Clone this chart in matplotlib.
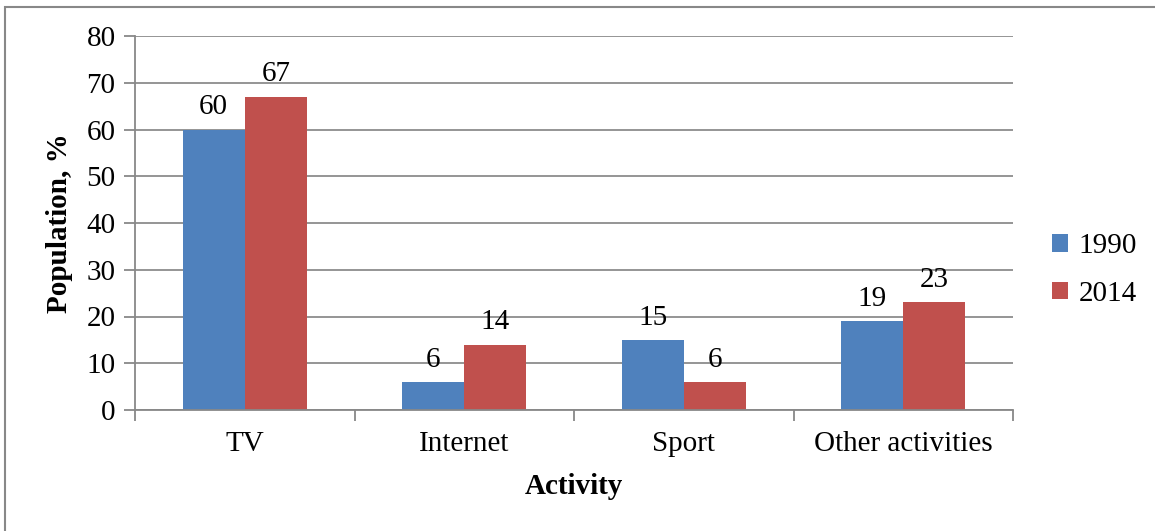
import matplotlib
matplotlib.use("Agg")
import matplotlib.pyplot as plt
import numpy as np
from matplotlib.patches import Rectangle

categories = ["TV", "Internet", "Sport", "Other activities"]
series_names = ["1990", "2014"]
values_1990 = [60, 6, 15, 19]
values_2014 = [67, 14, 6, 23]
yticks = [0, 10, 20, 30, 40, 50, 60, 70, 80]

plt.rcParams['font.family'] = ['Liberation Serif', 'DejaVu Serif']
W, H = 1155, 531
fig = plt.figure(figsize=(W/100, H/100), dpi=100)
ax = fig.add_axes([135/W, 1-410/H, 878/W, 374/H])

# chart frame
fig.patches.append(Rectangle((5/W, -0.1), 1.2, 1-7/H+0.1, transform=fig.transFigure,
                             fill=False, edgecolor='#888888', linewidth=1.5))

blue = '#4F81BD'
red = '#C0504D'
fs = 21
x = np.arange(len(categories))
bw = 0.283
b1 = ax.bar(x - bw/2, values_1990, bw, color=blue, label=series_names[0])
b2 = ax.bar(x + bw/2, values_2014, bw, color=red, label=series_names[1])

for bars, vals in ((b1, values_1990), (b2, values_2014)):
    for r, v in zip(bars, vals):
        ax.text(r.get_x() + r.get_width()/2, v + 2.0, str(v), ha='center', va='bottom', fontsize=fs)

ax.set_xlim(-0.5, len(categories) - 0.5)
ax.set_ylim(0, 80)
ax.set_yticks(yticks)
ax.set_yticklabels([str(t) for t in yticks], fontsize=fs)
ax.yaxis.grid(True, color='#8c8c8c', linewidth=1.3)
ax.set_axisbelow(True)
ax.set_xticks(x)
ax.set_xticklabels(categories, fontsize=fs)
ax.tick_params(axis='x', length=0, pad=15)
ax.set_xticks(np.arange(-0.5, len(categories) + 0.5, 1), minor=True)
ax.tick_params(axis='x', which='minor', length=8, color='#888888', width=1.3)
ax.tick_params(axis='y', length=8, color='#888888', width=1.3, pad=6)

for s in ['top', 'right']:
    ax.spines[s].set_visible(False)
for s in ['left', 'bottom']:
    ax.spines[s].set_color('#888888')
    ax.spines[s].set_linewidth(1.3)

ax.set_ylabel("Population, %", fontsize=fs, fontweight='bold', labelpad=10)
ax.set_xlabel("Activity", fontsize=fs, fontweight='bold', labelpad=12)

leg = fig.legend(handles=[b1, b2], labels=series_names, loc='center left',
                 bbox_to_anchor=(1052/W, 1-270/H), frameon=False, fontsize=21,
                 borderpad=0, borderaxespad=0,
                 handlelength=0.55, handleheight=0.55, handletextpad=0.35, labelspacing=0.75)

fig.savefig("out.png", dpi=100)
